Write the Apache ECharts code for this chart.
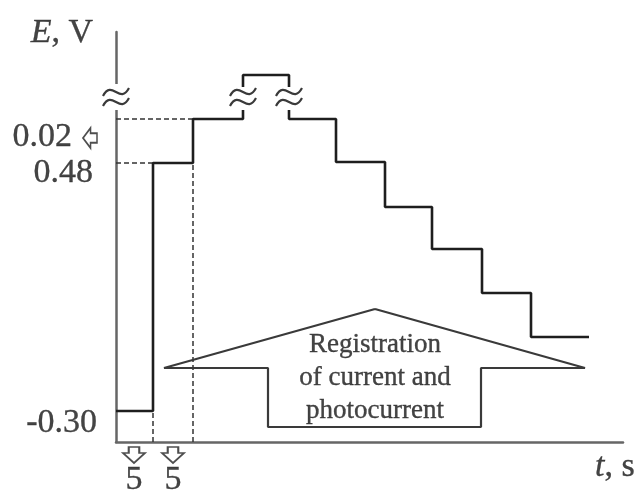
<!DOCTYPE html>
<html><head><meta charset="utf-8">
<script src="https://cdn.jsdelivr.net/npm/echarts@6/dist/echarts.min.js"></script>
<style>html,body{margin:0;padding:0;background:#fff}#c{width:636px;height:490px}</style>
</head><body><div id="c"></div>
<script>
// Schematic units: time (x) and potential level (y)
const stepBeforeBreak = [[0,31],[37,31],[37,279],[77,279],[77,323],[127,323],[127,332]];
const stepBracket = [[127,355],[127,367],[173,367],[173,355]];
const stepAfterBreak = [[173,332],[173,323],[220,323],[220,280],[269,280],[269,235],[316,235],[316,193],[366,193],[366,149],[415,149],[415,105],[473,105]];
const guideH = [[[0,323],[77,323]], [[0,279],[37,279]]];
const guideV = [[[37,0],[37,31]], [[77,0],[77,279]]];
const arrowOutline = [[259,133],[469,74],[365,74],[365,15],[152,15],[152,74],[48,74],[259,133]];
const breakPoints = [[0,345,1],[127,345,0],[173,345,0]];
const tickLabels = [
  {text:'0.02', at:[-44,305]},
  {text:'0.48', at:[-23,269]},
  {text:'-0.30', at:[-19,19]}
];
const durationLabels = [{text:'5', at:[18,-38]},{text:'5', at:[57,-38]}];
const durationArrows = [[18,-13],[57,-13]];
const levelArrow = [[-26,304]];
const boxText = ['Registration','of current and','photocurrent'];

const FONT = 'Liberation Serif';
const INK = '#151515';
const downArrow = 'path://M6,0 L17,0 L17,6 L23,6 L11.5,16 L0,6 L6,6 Z';
const leftArrow = 'path://M0,9.5 L7,0 L7,5 L13,5 L13,14 L7,14 L7,19 Z';

const chart = echarts.init(document.getElementById('c'), null, {renderer:'canvas'});

const lineSeries = (data, extra) => Object.assign({
  type:'line', data, symbol:'none', silent:true, clip:false,
  lineStyle:{color:'#1e1e1e', width:2.6}, z:3
}, extra||{});

const txt = {fontFamily:FONT, color:INK, textBorderColor:INK, textBorderWidth:0.35};

const series = [
  lineSeries(stepBeforeBreak),
  lineSeries(stepBracket),
  lineSeries(stepAfterBreak),
  ...guideH.concat(guideV).map(d => lineSeries(d, {lineStyle:{color:'#333', width:1.5, type:[5,3]}, z:2})),
  lineSeries(arrowOutline, {lineStyle:{color:'#3a3a3a', width:2.2}, z:2}),
  {
    type:'custom', clip:false, silent:true, z:4,
    data: breakPoints,
    renderItem: (params, api) => {
      const p = api.coord([api.value(0), api.value(1)]);
      const cx = p[0], cy = p[1];
      const children = [];
      if (api.value(2)) {
        children.push({type:'rect', shape:{x:cx-15, y:cy-13, width:30, height:26}, style:{fill:'#fff'}});
      }
      [-5, 5].forEach(dy => {
        children.push({type:'bezierCurve', shape:{x1:cx-13, y1:cy+dy+4, cpx1:cx-4, cpy1:cy+dy-13, cpx2:cx+4, cpy2:cy+dy+13, x2:cx+13, y2:cy+dy-4},
          style:{stroke:'#3a3a3a', lineWidth:2.2, fill:null}});
      });
      return {type:'group', children};
    }
  },
  {
    type:'scatter', silent:true, clip:false, z:5,
    symbol: downArrow, symbolSize:[22,16],
    itemStyle:{color:'#fff', borderColor:'#222', borderWidth:1.8},
    data: durationArrows
  },
  {
    type:'scatter', silent:true, clip:false, z:5,
    symbol: leftArrow, symbolSize:[14,20],
    itemStyle:{color:'#fff', borderColor:'#222', borderWidth:1.8},
    data: levelArrow
  },
  {
    type:'scatter', silent:true, clip:false, z:6, symbolSize:0,
    label:Object.assign({show:true, fontSize:34}, txt),
    data: [
      ...tickLabels.map(t => ({value:t.at, label:{formatter:t.text, position:'left', distance:0}})),
      ...durationLabels.map(t => ({value:t.at, label:{formatter:t.text, position:'inside'}})),
      {value:[-23,409], label:{formatter:'{i|E}, V', position:'left', distance:0,
        rich:{i:Object.assign({fontStyle:'italic', fontSize:34}, txt)}}},
      {value:[479,-25], label:{formatter:'{i|t}, s', position:'right', distance:0,
        rich:{i:Object.assign({fontStyle:'italic', fontSize:34}, txt)}}},
      {value:[259,64], label:{formatter:boxText.join('\n'), position:'inside', fontSize:27, lineHeight:33, align:'center'}}
    ]
  }
];

chart.setOption({
  animation:false,
  backgroundColor:'#fff',
  grid:{left:116, right:13, top:32, bottom:48, containLabel:false},
  xAxis:{type:'value', min:0, max:507, axisLine:{show:true, onZero:false, lineStyle:{color:'#666', width:2.5}},
    axisTick:{show:false}, axisLabel:{show:false}, splitLine:{show:false}},
  yAxis:{type:'value', min:0, max:410, axisLine:{show:true, onZero:false, lineStyle:{color:'#666', width:2.5}},
    axisTick:{show:false}, axisLabel:{show:false}, splitLine:{show:false}},
  series
});
</script></body></html>
